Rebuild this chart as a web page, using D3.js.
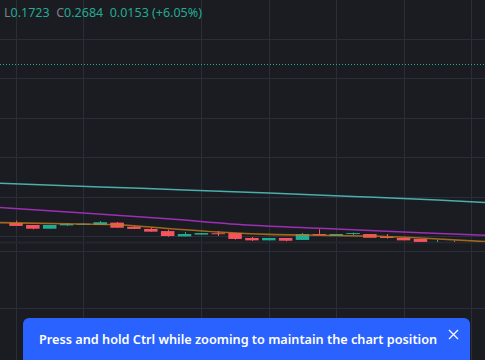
<!DOCTYPE html>
<html>
<head>
<meta charset="utf-8">
<script src="https://cdn.jsdelivr.net/npm/d3@7"></script>
<style>
  html, body { margin: 0; padding: 0; background: #1b1c21; }
  svg { display: block; }
</style>
</head>
<body>
<svg id="chart" width="485" height="360"></svg>
<script>
// candles, one per bar index
var opens  = [0.1866, 0.1856, 0.1837, 0.1854, 0.1857, 0.1856, 0.1868, 0.1847, 0.1836, 0.1825, 0.1798, 0.1807, 0.1814, 0.1815,
              0.1790, 0.1778, 0.1790, 0.1780, 0.1810, 0.1800, 0.1810, 0.1810, 0.1795, 0.1790, 0.1785, 0.1765, 0.1768];
var highs  = [0.1878, 0.1856, 0.1856, 0.1866, 0.1864, 0.1876, 0.1871, 0.1852, 0.1842, 0.1832, 0.1820, 0.1815, 0.1825, 0.1815,
              0.1795, 0.1790, 0.1790, 0.1815, 0.1834, 0.1810, 0.1817, 0.1810, 0.1810, 0.1790, 0.1785, 0.1781, 0.1776];
var lows   = [0.1851, 0.1834, 0.1837, 0.1851, 0.1856, 0.1856, 0.1842, 0.1836, 0.1822, 0.1796, 0.1798, 0.1807, 0.1800, 0.1782,
              0.1775, 0.1778, 0.1773, 0.1780, 0.1804, 0.1800, 0.1805, 0.1791, 0.1787, 0.1778, 0.1770, 0.1760, 0.1758];
var closes = [0.1851, 0.1837, 0.1856, 0.1861, 0.1862, 0.1870, 0.1842, 0.1836, 0.1822, 0.1800, 0.1810, 0.1815, 0.1809, 0.1785,
              0.1778, 0.1790, 0.1776, 0.1810, 0.1804, 0.1810, 0.1815, 0.1791, 0.1790, 0.1778, 0.1770, 0.1768, 0.1762];

// moving averages: [bar index, value]
var maTeal   = [[-1, 0.2068], [5, 0.2049], [10, 0.2034], [15, 0.2018], [20, 0.2001], [25, 0.1983], [28, 0.1969]];
var maPurple = [[-1, 0.1945], [4, 0.1917], [9, 0.1887], [14, 0.1854], [19, 0.1835], [24, 0.1817], [28, 0.1803]];
var maOrange = [[-1, 0.1868], [3, 0.1862], [6, 0.1857], [9, 0.1838], [12, 0.1820], [15, 0.1808], [18, 0.1804],
                [21, 0.1800], [24, 0.1790], [28, 0.1771]];

var priceLine = 0.2673;
var priceTicks = [0.18, 0.20, 0.22, 0.24, 0.26, 0.28];
var paneTicks = [1, 2];
var timeGrid = [0, 4, 11, 15, 19, 23, 27];

var legendParts = [
    { t: "L", k: "label" }, { t: "0.1723", k: "value" }, { t: "  C", k: "label" }, { t: "0.2684", k: "value" },
    { t: "  0.0153", k: "value" }, { t: " (+6.05%)", k: "value" }
];
var toastText = "Press and hold Ctrl while zooming to maintain the chart position";

var svg = d3.select("#chart"),
    width = +svg.attr("width"),
    height = +svg.attr("height"),
    paneBottom = 242;

var upColor = "#22ab94",
    downColor = "#f7525f",
    gridColor = "#2a2e38";

var x = d3.scaleLinear().domain([0, 27]).range([16, 471]);
var y = d3.scaleLinear().domain([0.18, 0.28]).range([236, 39]);
var yPane = d3.scaleLinear().domain([0, 2]).range([365, 251]);
var candleWidth = 13.5;

svg.append("rect")
    .attr("width", width)
    .attr("height", height)
    .attr("fill", "#1b1c21");

svg.append("defs").append("clipPath")
    .attr("id", "pane")
    .append("rect")
    .attr("width", width)
    .attr("height", paneBottom);

// grid
var grid = svg.append("g").attr("class", "grid");

grid.selectAll(".vgrid")
    .data(timeGrid)
    .enter().append("line")
    .attr("x1", function(d) { return Math.round(x(d)) + 0.5; })
    .attr("x2", function(d) { return Math.round(x(d)) + 0.5; })
    .attr("y1", 0)
    .attr("y2", height)
    .attr("stroke", gridColor);

grid.selectAll(".hgrid")
    .data(priceTicks)
    .enter().append("line")
    .attr("x1", 0)
    .attr("x2", width)
    .attr("y1", function(d) { return Math.round(y(d)) + 0.5; })
    .attr("y2", function(d) { return Math.round(y(d)) + 0.5; })
    .attr("stroke", gridColor);

grid.selectAll(".pgrid")
    .data(paneTicks)
    .enter().append("line")
    .attr("x1", 0)
    .attr("x2", width)
    .attr("y1", function(d) { return Math.round(yPane(d)) + 0.5; })
    .attr("y2", function(d) { return Math.round(yPane(d)) + 0.5; })
    .attr("stroke", gridColor);

// pane separator
svg.append("line")
    .attr("x1", 0)
    .attr("x2", width)
    .attr("y1", paneBottom + 0.5)
    .attr("y2", paneBottom + 0.5)
    .attr("stroke", "#25272e")
    .attr("stroke-width", 2);

var main = svg.append("g").attr("clip-path", "url(#pane)");

main.append("line")
    .attr("x1", 0)
    .attr("x2", width)
    .attr("y1", Math.round(y(priceLine)) + 0.5)
    .attr("y2", Math.round(y(priceLine)) + 0.5)
    .attr("stroke", upColor)
    .attr("stroke-dasharray", "1,2");

var line = d3.line()
    .x(function(d) { return x(d[0]); })
    .y(function(d) { return y(d[1]); })
    .curve(d3.curveMonotoneX);

main.append("path")
    .datum(maTeal)
    .attr("d", line)
    .attr("fill", "none")
    .attr("stroke", "#4aaeab")
    .attr("stroke-width", 1.5);

main.append("path")
    .datum(maPurple)
    .attr("d", line)
    .attr("fill", "none")
    .attr("stroke", "#9c2fb3")
    .attr("stroke-width", 1.5);

var candles = main.append("g")
    .selectAll("g")
    .data(d3.range(opens.length))
    .enter().append("g");

function candleColor(i) { return closes[i] >= opens[i] ? upColor : downColor; }

candles.append("line")
    .attr("x1", function(i) { return Math.round(x(i)) + 0.5; })
    .attr("x2", function(i) { return Math.round(x(i)) + 0.5; })
    .attr("y1", function(i) { return y(highs[i]); })
    .attr("y2", function(i) { return y(lows[i]); })
    .attr("stroke", candleColor);

candles.append("rect")
    .attr("x", function(i) { return x(i) - candleWidth / 2; })
    .attr("width", candleWidth)
    .attr("y", function(i) { return y(Math.max(opens[i], closes[i])); })
    .attr("height", function(i) { return Math.max(1, Math.abs(y(opens[i]) - y(closes[i]))); })
    .attr("fill", candleColor);

main.append("path")
    .datum(maOrange)
    .attr("d", line)
    .attr("fill", "none")
    .attr("stroke", "#c27a1e")
    .attr("stroke-opacity", 0.8)
    .attr("stroke-width", 1.6);

// legend row
svg.append("text")
    .attr("x", 4)
    .attr("y", 16.5)
    .style("font-family", "'Noto Sans', sans-serif")
    .style("font-size", "12.5px")
    .attr("xml:space", "preserve")
    .selectAll("tspan")
    .data(legendParts)
    .enter().append("tspan")
    .attr("fill", function(d) { return d.k == "label" ? "#7c808b" : upColor; })
    .text(function(d) { return d.t; });

// zoom hint toast
var toast = svg.append("g");

toast.append("rect")
    .attr("x", 23)
    .attr("y", 318)
    .attr("width", 447)
    .attr("height", 56)
    .attr("rx", 6)
    .attr("fill", "#2962ff");

toast.append("text")
    .attr("x", 39)
    .attr("y", 344)
    .attr("fill", "#ffffff")
    .style("font-family", "'Noto Sans', sans-serif")
    .style("font-size", "12.7px")
    .style("font-weight", 600)
    .text(toastText);

toast.append("path")
    .attr("d", "M449,330L458,339M458,330L449,339")
    .attr("stroke", "#ffffff")
    .attr("stroke-width", 1.2)
    .attr("fill", "none");
</script>
</body>
</html>
